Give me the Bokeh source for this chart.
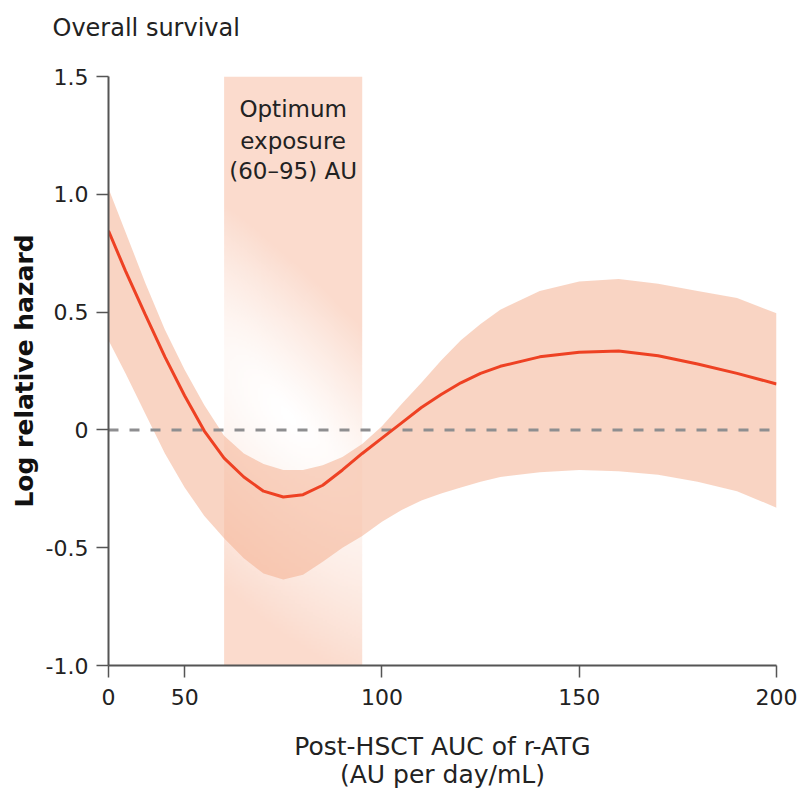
import numpy as np
from bokeh.plotting import figure
from bokeh.models import FixedTicker, Label, Range1d, Title
from bokeh.embed import file_html
from bokeh.resources import INLINE

# ---- data ----
x_auc = [30.7, 35, 40, 45, 50, 55, 60, 65, 70, 75, 80, 85, 90, 95, 100, 105,
         110, 115, 120, 125, 130, 140, 150, 160, 170, 180, 190, 200]
log_hr = [0.845, 0.675, 0.49, 0.31, 0.145, -0.005, -0.12, -0.20, -0.26, -0.285,
          -0.275, -0.235, -0.17, -0.10, -0.035, 0.03, 0.095, 0.15, 0.20, 0.24,
          0.27, 0.31, 0.33, 0.335, 0.315, 0.28, 0.24, 0.195]
upper_ci = [1.025, 0.84, 0.625, 0.425, 0.255, 0.105, -0.025, -0.10, -0.145, -0.17,
            -0.17, -0.15, -0.115, -0.06, 0.015, 0.11, 0.20, 0.295, 0.38, 0.45,
            0.51, 0.59, 0.63, 0.64, 0.62, 0.59, 0.56, 0.495]
lower_ci = [0.38, 0.24, 0.07, -0.10, -0.245, -0.365, -0.46, -0.545, -0.61, -0.635,
            -0.615, -0.56, -0.50, -0.45, -0.39, -0.34, -0.30, -0.27, -0.245, -0.22,
            -0.20, -0.18, -0.17, -0.175, -0.19, -0.22, -0.26, -0.33]
optimum_band = [60, 95]
optimum_text = ["Optimum", "exposure", "(60\u201395) AU"]
x_ticks = [30.7, 50, 100, 150, 200]
x_tick_labels = ["0", "50", "100", "150", "200"]
y_ticks = [-1.0, -0.5, 0, 0.5, 1.0, 1.5]
y_tick_labels = ["-1.0", "-0.5", "0", "0.5", "1.0", "1.5"]
title_text = "Overall survival"
x_label_text = "Post-HSCT AUC of r-ATG\n(AU per day/mL)"
y_label_text = "Log relative hazard"

FONT = "DejaVu Sans"
X0, X1 = 30.7, 200
Y0, Y1 = -1.0, 1.5

p = figure(width=800, height=792, output_backend="svg", toolbar_location=None,
           x_range=Range1d(X0, X1), y_range=Range1d(Y0, Y1),
           min_border_left=108, min_border_right=24, min_border_top=76,
           min_border_bottom=127)
p.outline_line_color = None
p.grid.visible = False
p.background_fill_color = "white"
p.border_fill_color = "white"

# ---- gradient band (optimum exposure) ----
ny, nx = 300, 70
xs = np.linspace(optimum_band[0], optimum_band[1], nx)
ys = np.linspace(Y0, Y1, ny)
XX, YY = np.meshgrid(xs, ys)
PX = 108 + (XX - X0) * 3.946
PY = 76 + (Y1 - YY) * 235.6
cx, cy = 288.0, 415.0
dx, dy = PX - cx, PY - cy
ux, uy = 0.686, 0.727
along = dx * ux + dy * uy
perp = -dx * uy + dy * ux
rp = np.where(perp < 0, 115.0, 170.0)
t = np.sqrt((perp / rp) ** 2 + (along / 380.0) ** 2)
alpha = np.clip(t, 0, 1) ** 1.2 * 0.56
img = np.zeros((ny, nx), dtype=np.uint32)
view = img.view(dtype=np.uint8).reshape((ny, nx, 4))
view[:, :, 0] = 247
view[:, :, 1] = 190
view[:, :, 2] = 165
view[:, :, 3] = (alpha * 255).astype(np.uint8)
p.image_rgba(image=[img], x=optimum_band[0], y=Y0,
             dw=optimum_band[1] - optimum_band[0], dh=Y1 - Y0)

# ---- confidence band ----
p.varea(x=x_auc, y1=lower_ci, y2=upper_ci, fill_color="#F4AA87", fill_alpha=0.5)

# ---- zero reference line ----
p.line(x=[X0, X1], y=[0, 0], line_color="#8E8E90", line_width=3,
       line_dash="10 11")

# ---- fitted curve ----
p.line(x=x_auc, y=log_hr, line_color="#EE4123", line_width=3)

# ---- band text ----
for txt, yy in zip(optimum_text, [1.36, 1.228, 1.10]):
    p.add_layout(Label(x=sum(optimum_band) / 2, y=yy, text=txt,
                       text_align="center", text_baseline="middle",
                       text_font=FONT, text_font_size="23px",
                       text_color="#222222"))

# ---- axes ----
for ax in (p.xaxis[0], p.yaxis[0]):
    ax.axis_line_color = "#555555"
    ax.axis_line_width = 2
    ax.major_tick_line_color = "#555555"
    ax.major_tick_line_width = 1.5
    ax.major_tick_out = 12
    ax.major_tick_in = 0
    ax.minor_tick_line_color = None
    ax.major_label_text_font = FONT
    ax.major_label_text_font_size = "22px"
    ax.major_label_text_color = "#222222"

p.xaxis.ticker = FixedTicker(ticks=x_ticks)
p.xaxis.major_label_overrides = {k: v for k, v in zip(x_ticks, x_tick_labels)}
p.xaxis.major_label_standoff = 11
p.xaxis.axis_label = x_label_text
p.xaxis.axis_label_text_font = FONT
p.xaxis.axis_label_text_font_size = "25px"
p.xaxis.axis_label_text_font_style = "normal"
p.xaxis.axis_label_text_color = "#222222"
p.xaxis.axis_label_text_line_height = 0.98
p.xaxis.axis_label_standoff = 24

p.yaxis.ticker = FixedTicker(ticks=y_ticks)
p.yaxis.major_label_overrides = {k: v for k, v in zip(y_ticks, y_tick_labels)}
p.yaxis.major_label_standoff = 8
p.yaxis.axis_label = y_label_text
p.yaxis.axis_label_text_font = FONT
p.yaxis.axis_label_text_font_size = "25px"
p.yaxis.axis_label_text_font_style = "bold"
p.yaxis.axis_label_text_color = "#111111"
p.yaxis.axis_label_standoff = 4

# ---- title: a spacer title next to the frame, the real title outside it ----
p.title.text = ""
p.add_layout(Title(text=" ", text_font=FONT, text_font_size="10px",
                   standoff=22), "above")
p.add_layout(Title(text=title_text, text_font=FONT, text_font_size="24px",
                   text_font_style="normal", text_color="#222222",
                   align="left", offset=-56, standoff=0), "above")

open("out.html", "w").write(file_html(p, INLINE))
